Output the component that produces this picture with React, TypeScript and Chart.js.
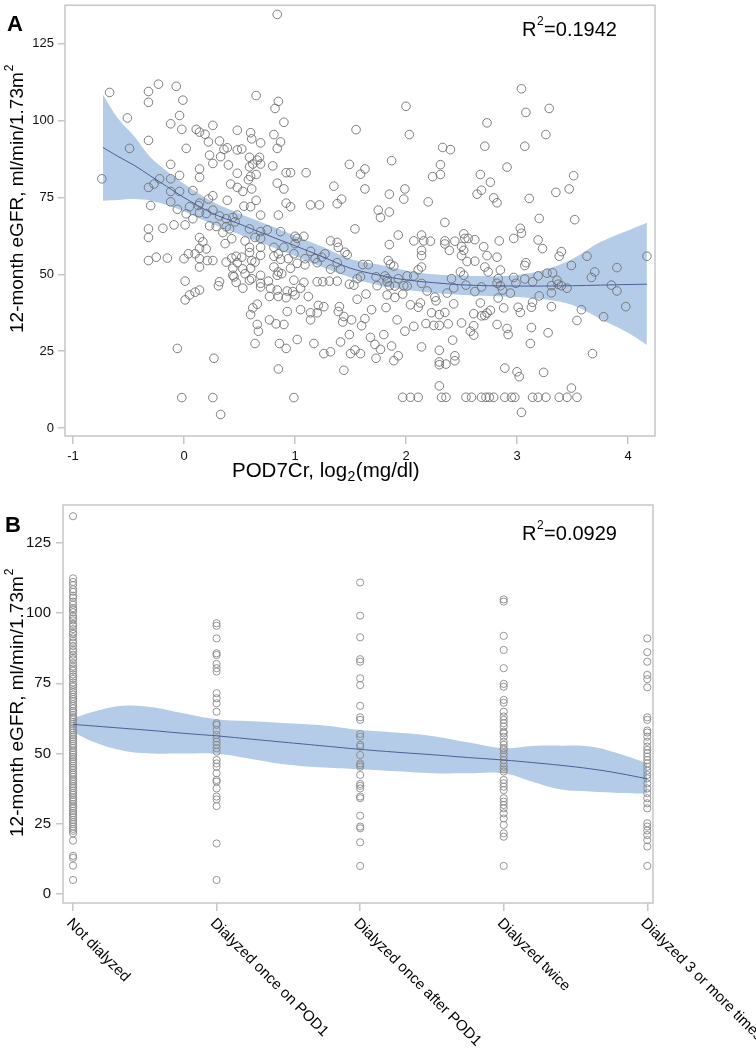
import React, { useEffect, useRef } from "react";
import { Chart, registerables } from "chart.js";
Chart.register(...registerables);

const FONT = '"Liberation Sans", Arial, Helvetica, sans-serif';
const AXIS = "#c6c6c6";
const BAND = "rgba(160, 190, 226, 0.78)";
const FIT = "#4b5e96";

// ---------- Panel A data ----------
const xTicksA = [-1, 0, 1, 2, 3, 4];
const yTicks = [0, 25, 50, 75, 100, 125];
const r2A = "0.1942";
const r2B = "0.0929";
const yTitle = "12-month eGFR, ml/min/1.73m";

const pointsA: [number, number][] = [
  [3.04,110.4],[2.00,104.7],[3.08,102.7],[3.29,104.0],[2.73,99.3],[2.03,95.5],[3.26,95.5],
  [0.84,134.6],[-0.74,81.1],[-0.67,109.2],[-0.51,100.9],[-0.49,91.0],[-0.32,109.5],[-0.32,106.0],[-0.32,93.6],[-0.23,111.9],[-0.07,111.2],[-0.04,101.7],[-0.01,106.7],[-0.12,99.0],[-0.02,97.2],[0.02,91.0],[-0.12,85.8],[-0.12,81.1],[-0.04,82.2],[-0.12,77.0],[-0.04,77.0],[-0.32,78.3],[-0.27,79.4],[-0.22,81.1],[-0.30,72.4],[-0.12,73.6],[0.08,77.3],[0.14,73.2],[0.11,97.2],[0.14,96.3],[0.19,95.6],[0.22,93.1],[0.26,98.5],[0.32,93.4],[0.23,88.8],[0.26,86.1],[0.14,84.3],[0.14,81.6],[0.33,88.3],[0.36,90.7],[0.39,91.2],[0.48,96.9],[0.60,96.1],[0.61,94.1],[0.69,92.8],[0.48,90.5],[0.52,90.8],[0.65,108.2],[0.85,106.3],[0.82,104.0],[0.90,99.5],[0.81,95.5],[0.87,93.1],[0.84,91.0],[0.59,88.1],[0.66,87.2],[0.68,88.1],[0.59,85.0],[0.62,85.9],[0.69,85.9],[0.40,85.6],[0.48,82.9],[0.65,82.5],[0.58,80.8],[0.60,81.9],[0.80,85.3],[0.92,83.1],[0.96,83.1],[1.10,83.1],[0.84,79.7],[0.90,77.8],[0.42,79.4],[0.48,78.3],[0.61,77.8],[0.53,77.0],[0.26,75.6],[0.22,74.5],[0.39,74.1],[0.65,74.1],[0.54,72.2],[0.60,72.0],[0.92,73.2],[0.96,72.0],[1.14,72.6],[1.22,72.6],[1.49,85.8],[1.59,82.6],[1.63,84.3],[1.63,77.8],[1.55,97.1],[1.35,78.7],[1.38,73.0],[1.42,74.5],
  [-0.32,64.8],[-0.32,62.0],[-0.19,65.0],[-0.09,66.1],[0.01,66.1],[-0.06,71.2],[0.02,69.7],[0.08,68.1],[0.05,72.0],[0.13,72.4],[0.14,70.1],[0.20,69.8],[0.26,70.9],[0.32,69.0],[0.38,68.1],[0.23,65.8],[0.29,65.6],[0.35,63.6],[0.38,65.5],[0.41,64.8],[0.44,68.5],[0.48,69.3],[0.46,67.1],[0.43,61.6],[0.37,60.0],[0.14,62.0],[0.17,60.6],[0.20,58.3],[0.14,58.5],[0.10,56.7],[0.04,56.7],[0.00,55.1],[-0.32,54.5],[-0.25,55.6],[-0.15,55.3],[0.14,55.1],[0.21,54.5],[0.26,54.5],[0.14,52.4],[0.01,47.8],[0.05,43.3],[0.10,44.2],[0.14,44.9],[0.01,41.7],[0.32,47.6],[0.31,46.3],[0.38,54.0],[0.43,55.3],[0.47,55.9],[0.52,55.6],[0.48,53.8],[0.44,52.0],[0.53,51.8],[0.45,49.2],[0.47,47.4],[0.59,48.1],[0.55,50.2],[0.61,54.5],[0.64,54.0],[0.69,56.2],[0.59,57.1],[0.59,58.8],[0.69,58.8],[0.69,61.7],[0.69,63.9],[0.75,64.5],[0.59,64.8],[0.55,60.9],[0.64,62.0],[0.69,69.3],[0.85,69.3],[0.87,63.9],[0.81,58.8],[0.90,58.8],[0.85,56.7],[0.81,55.9],[0.87,54.9],[0.94,55.1],[0.99,56.7],[1.00,62.4],[1.02,61.7],[1.00,60.0],[1.08,62.4],[0.81,52.4],[0.85,50.8],[0.88,50.2],[0.96,52.0],[1.02,53.6],[1.09,53.1],[1.14,57.5],[1.18,55.1],[1.20,53.8],[1.24,55.6],[1.27,56.7],[1.32,60.9],[1.38,60.4],[1.39,58.8],[1.45,57.2],[1.47,56.4],[1.38,53.8],[1.32,51.7],[1.41,51.7],[1.20,47.6],[1.25,47.6],[1.31,47.8],[1.38,47.8],[1.49,46.8],[1.53,46.5],[1.56,48.6],[1.56,41.9],[1.12,42.8],[1.05,45.5],[1.08,47.4],[0.99,48.1],[0.93,44.6],[0.98,44.4],[1.00,43.3],[0.92,42.4],[0.85,42.8],[0.84,44.9],[0.77,42.8],[0.93,37.9],[1.05,38.5],[1.14,37.5],[1.20,37.5],[1.26,39.5],[1.40,39.5],[1.39,37.9],[1.44,36.3],[1.43,34.5],[1.51,35.2],[1.14,35.2],[0.69,49.7],[0.76,47.8],[0.84,49.7],[0.69,47.1],[0.61,48.6],[0.60,52.0],[0.69,45.9],[0.53,45.5],[0.44,49.7],[0.78,45.5],[1.09,55.1],[0.66,40.3],[0.62,39.1],[0.60,36.9],[0.66,33.7],[0.67,31.5],[0.77,35.2],[0.83,33.9],[0.90,33.7],[1.21,39.9],
  [-0.06,25.9],[-0.02,9.9],[0.26,9.9],[0.27,22.7],[0.33,4.4],[0.64,27.5],[0.86,27.5],[0.92,25.9],[0.85,19.2],[0.99,9.9],[1.02,28.8],[1.17,27.5],[1.26,24.2],[1.32,24.8],[1.41,28.0],[1.44,18.8],[1.49,30.4],[1.50,24.2],[1.54,25.4],[1.59,24.2],[1.68,29.5],[1.72,27.2],[1.73,22.7],
  [2.33,91.3],[2.40,90.6],[2.71,91.7],[3.07,91.7],[1.87,87.0],[2.31,85.7],[2.31,82.5],[2.24,81.8],[2.91,84.9],[2.67,82.5],[2.76,80.0],[2.64,76.1],[2.68,77.4],[2.79,74.9],[2.82,73.3],[3.11,74.7],[3.35,76.7],[3.47,77.8],[3.51,82.1],[1.85,76.1],[1.98,74.5],[1.99,77.8],[2.20,73.6],[1.75,70.9],[1.77,68.5],[1.85,70.3],[1.54,64.8],[2.35,66.9],[3.20,68.2],[3.52,67.8],[1.93,62.8],[1.85,59.7],[2.07,60.9],[2.14,62.8],[2.16,60.9],[2.22,60.8],[2.35,60.9],[2.35,59.9],[2.44,60.8],[2.52,63.2],[2.53,61.7],[2.56,61.7],[2.62,61.3],[2.50,59.1],[2.52,57.8],[2.39,57.8],[2.14,57.8],[2.14,56.1],[2.70,59.0],[2.73,56.1],[2.82,55.6],[2.50,56.1],[2.55,54.2],[2.62,54.3],[2.84,60.9],[2.97,61.7],[3.03,65.0],[3.04,63.4],[3.19,61.2],[3.23,58.4],[3.38,55.9],[3.40,57.4],[3.63,55.9],[4.17,55.9],[3.49,52.9],[3.70,50.8],[3.67,49.0],[3.90,52.2],[3.85,46.5],[3.90,44.6],[3.98,39.5],[3.78,36.2],[3.58,38.5],[3.54,35.0],[3.31,39.5],[3.28,31.0],[3.13,32.7],[3.13,39.3],[3.14,40.9],[3.03,37.6],[3.01,39.3],[2.88,39.1],[2.76,38.3],[2.73,37.4],[2.71,36.6],[2.68,36.5],[2.67,40.7],[2.61,37.2],[2.61,33.3],[2.58,31.5],[2.82,33.7],[2.91,32.4],[2.50,34.2],[2.38,33.9],[2.30,33.4],[2.25,33.4],[2.18,34.0],[2.07,33.1],[1.99,31.5],[1.92,35.2],[1.82,39.2],[1.69,38.5],[1.63,35.6],[1.60,33.3],[1.64,43.6],[1.83,43.3],[1.90,42.5],[1.97,43.6],[2.04,40.1],[2.11,39.3],[2.13,40.7],[2.23,37.5],[2.30,36.9],[2.35,37.6],[2.43,40.4],[2.27,41.4],[2.26,42.6],[2.37,43.9],[2.19,44.6],[2.01,46.2],[1.90,46.2],[1.85,46.3],[1.83,47.6],[1.74,46.3],[1.73,49.2],[1.81,49.5],[1.83,48.6],[1.86,53.3],[1.89,52.7],[1.84,54.5],[1.66,53.2],[1.61,53.2],[1.59,49.2],[1.93,48.6],[1.98,46.3],[2.01,49.5],[2.07,49.5],[2.11,51.5],[2.14,52.4],[2.14,47.1],[2.41,48.6],[2.49,50.8],[2.52,49.7],[2.54,46.5],[2.43,45.6],[2.62,44.4],[2.68,45.9],[2.71,52.4],[2.74,50.8],[2.83,48.6],[2.85,51.4],[2.82,47.1],[2.85,46.3],[2.87,44.9],[2.83,42.3],[2.94,43.9],[2.97,49.0],[2.99,47.1],[3.07,48.5],[3.14,47.6],[3.19,49.5],[3.20,43.0],[3.27,50.4],[3.32,50.5],[3.31,44.0],[3.36,48.1],[3.37,46.8],[3.40,46.3],[3.45,45.5],[3.31,46.3],[3.08,53.8],[3.07,52.9],
  [1.77,25.6],[1.80,30.4],[1.87,26.7],[1.93,23.5],[1.89,21.9],[2.14,26.4],[2.30,25.3],[2.30,21.5],[2.30,20.6],[2.36,20.8],[2.44,21.9],[2.44,23.5],[2.42,28.6],[2.30,13.7],[1.97,10],[2.04,10],[2.11,10],[2.32,10],[2.36,10],[2.54,10],[2.59,10],[2.68,10],[2.72,10],[2.75,10],[2.79,10],[2.89,10],[2.95,10],[2.98,10],[3.14,10],[3.19,10],[3.26,10],[3.38,10],[3.45,10],[3.54,10],[3.04,5.1],[2.89,19.5],[3.00,18.3],[3.02,16.7],[3.24,18.1],[3.49,13.0],[3.68,24.2],[3.12,27.5],[2.92,30.4],[2.61,30.2],
];

const fitAx = [-0.73, -0.6, -0.45, -0.3, -0.15, 0, 0.25, 0.5, 0.75, 1.0, 1.25, 1.5, 1.75, 2.0, 2.25, 2.5, 2.75, 3.0, 3.25, 3.5, 3.75, 4.0, 4.17];
const fitAy = [91.3, 88.5, 85.5, 82.0, 78.5, 75.0, 70.0, 66.4, 62.8, 59.3, 55.7, 52.0, 49.8, 48.2, 47.3, 46.6, 46.3, 46.2, 46.2, 46.3, 46.5, 46.7, 46.8];
const bandALow = [74.0, 74.2, 74.5, 74.0, 72.5, 70.5, 66.5, 63.0, 59.5, 56.0, 52.3, 49.0, 46.5, 45.0, 44.0, 43.3, 43.0, 42.6, 41.8, 40.0, 35.5, 31.0, 27.0];
const bandAHigh = [108.5, 101.0, 95.0, 88.0, 83.5, 79.5, 73.8, 69.8, 66.2, 62.6, 59.0, 55.0, 53.2, 51.3, 50.0, 49.6, 49.4, 49.8, 51.5, 55.0, 60.5, 64.3, 66.8];

// ---------- Panel B data ----------
const categoriesB = ["Not dialyzed", "Dialyzed once on POD1", "Dialyzed once after POD1", "Dialyzed twice", "Dialyzed 3 or more times"];
const notDialyzed = [134.5, 112.4, 111.1, 110.0, 108.5, 107.6, 106.2, 105.5, 104.1, 103.0, 101.8, 101.2, 100.3, 99.0, 98.1, 97.4, 96.2, 95.5, 94.3, 93.1, 92.6, 91.4, 90.2, 89.5, 88.3, 87.0, 86.4, 85.2, 84.1, 83.5, 82.2, 81.0, 80.3, 79.5, 78.2, 77.4, 76.6, 75.3, 74.5, 73.8, 72.6, 71.9, 71.0, 70.2, 69.4, 68.7, 67.6, 66.9, 66.1, 65.2, 64.6, 63.7, 62.9, 62.2, 61.3, 60.6, 59.8, 59.0, 58.3, 57.5, 56.6, 55.9, 55.1, 54.4, 53.5, 52.8, 52.0, 51.1, 50.4, 49.6, 48.8, 48.0, 47.2, 46.5, 45.6, 44.9, 44.1, 43.2, 42.5, 41.7, 40.8, 40.1, 39.2, 38.4, 37.7, 36.8, 36.0, 35.3, 34.4, 33.6, 32.9, 32.0, 31.2, 30.5, 29.6, 28.8, 28.1, 27.3, 26.4, 25.6, 24.9, 24.0, 23.2, 22.5, 21.6, 19.0, 13.6, 12.9, 10.1, 5.0];
const onceOnPod1 = [96.4, 95.5, 91.0, 85.7, 85.1, 81.9, 80.4, 79.2, 71.5, 69.7, 67.9, 64.9, 60.8, 60.2, 58.4, 56.6, 55.4, 54.2, 53.1, 51.9, 50.7, 47.7, 46.5, 45.3, 43.0, 40.6, 40.0, 37.6, 34.7, 33.7, 31.3, 18.0, 5.0];
const onceAfterPod1 = [110.9, 99.1, 91.4, 83.6, 82.7, 76.8, 74.4, 67.0, 62.9, 62.0, 57.0, 56.0, 53.1, 52.5, 49.5, 46.5, 45.9, 45.3, 42.4, 39.2, 38.5, 37.6, 34.7, 34.1, 27.9, 24.0, 23.4, 18.4, 10.0];
const twice = [104.9, 104.1, 91.9, 86.9, 80.4, 74.8, 73.8, 69.1, 68.1, 64.9, 63.2, 62.0, 60.8, 59.6, 57.8, 57.2, 56.0, 54.2, 53.1, 51.9, 51.3, 50.1, 48.9, 47.7, 46.5, 45.3, 44.4, 43.6, 40.6, 39.4, 38.2, 37.0, 34.1, 32.9, 31.7, 30.5, 28.7, 26.9, 24.6, 21.6, 20.4, 10.0];
const threePlus = [91.0, 86.1, 82.7, 78.0, 76.5, 73.6, 62.9, 62.0, 58.2, 57.5, 56.0, 54.2, 52.5, 51.3, 50.1, 48.9, 47.7, 46.5, 45.3, 43.9, 42.4, 41.2, 39.4, 37.6, 35.9, 34.1, 32.3, 30.5, 25.2, 24.0, 22.6, 21.0, 19.2, 16.9, 10.0];
const groupsB = [notDialyzed, onceOnPod1, onceAfterPod1, twice, threePlus];

const fitBx = [0, 0.15, 0.35, 0.55, 0.75, 1.0, 1.25, 1.5, 1.75, 2.0, 2.25, 2.5, 2.75, 3.0, 3.2, 3.4, 3.6, 3.8, 4.0];
const fitBy = [60.4, 59.8, 59.0, 58.2, 57.3, 56.3, 55.1, 53.9, 52.7, 51.5, 50.5, 49.6, 48.6, 47.7, 46.8, 45.8, 44.6, 43.0, 41.0];
const bandBLow = [57.7, 54.0, 51.0, 50.0, 50.0, 49.9, 48.0, 46.0, 45.0, 44.4, 43.7, 43.0, 43.0, 43.0, 40.0, 37.2, 36.5, 36.0, 35.8];
const bandBHigh = [62.6, 65.0, 67.0, 66.5, 64.5, 62.2, 61.5, 60.8, 60.0, 58.4, 57.5, 56.3, 54.0, 51.9, 52.7, 52.8, 52.5, 50.0, 46.5];

const pts = (xs: number[], ys: number[]) => xs.map((x, i) => ({ x, y: ys[i] }));

type DecorCfg = {
  letter: string; letterX: number; letterY: number;
  r2: string; rX: number; rY: number;
  yTitleX: number; yTitleY: number;
  extra?: (chart: any, ctx: CanvasRenderingContext2D) => void;
};

function decorPlugin(cfg: DecorCfg) {
  return {
    id: "decor" + cfg.letter,
    afterDraw(chart: any) {
      const { ctx, chartArea: a } = chart;
      ctx.save();
      ctx.strokeStyle = AXIS;
      ctx.lineWidth = 1.5;
      ctx.strokeRect(a.left, a.top, a.right - a.left, a.bottom - a.top);
      ctx.fillStyle = "#000";
      ctx.textAlign = "left";
      ctx.textBaseline = "alphabetic";
      ctx.font = `bold 22px ${FONT}`;
      ctx.fillText(cfg.letter, cfg.letterX, cfg.letterY);
      // R^2 annotation
      ctx.font = `20px ${FONT}`;
      ctx.fillText("R", cfg.rX, cfg.rY);
      const wR = ctx.measureText("R").width;
      ctx.font = `12px ${FONT}`;
      ctx.fillText("2", cfg.rX + wR + 0.5, cfg.rY - 11);
      const w2 = ctx.measureText("2").width;
      ctx.font = `20px ${FONT}`;
      ctx.fillText("=" + cfg.r2, cfg.rX + wR + w2 + 1, cfg.rY);
      ctx.restore();
      // y title
      ctx.save();
      ctx.fillStyle = "#000";
      ctx.translate(cfg.yTitleX, cfg.yTitleY);
      ctx.rotate(-Math.PI / 2);
      ctx.textAlign = "left";
      ctx.textBaseline = "alphabetic";
      ctx.font = `19px ${FONT}`;
      ctx.fillText(yTitle, 0, 0);
      const wt = ctx.measureText(yTitle).width;
      ctx.font = `12px ${FONT}`;
      ctx.fillText("2", wt + 1, -10);
      ctx.restore();
      if (cfg.extra) {
        ctx.save();
        cfg.extra(chart, ctx);
        ctx.restore();
      }
    },
  };
}

const gridOpts = { drawOnChartArea: false, drawTicks: true, tickLength: 8, color: AXIS, lineWidth: 1.5 };
const zeroPad = (s: any) => { s.paddingTop = 0; s.paddingBottom = 0; s.paddingLeft = 0; s.paddingRight = 0; };

function ChartA() {
  const ref = useRef<HTMLCanvasElement>(null);
  useEffect(() => {
    const chart = new Chart(ref.current!, {
      type: "scatter",
      data: {
        datasets: [
          { type: "line", data: pts(fitAx, bandALow), borderColor: "rgba(0,0,0,0)", borderWidth: 0, pointRadius: 0, fill: false, tension: 0.35, order: 3, backgroundColor: BAND } as any,
          { type: "line", data: pts(fitAx, bandAHigh), borderColor: "rgba(0,0,0,0)", borderWidth: 0, pointRadius: 0, fill: "-1", tension: 0.35, order: 3, backgroundColor: BAND } as any,
          { type: "scatter", data: pointsA.map(([x, y]) => ({ x, y })), pointRadius: 4.3, pointBorderWidth: 0.9, pointBorderColor: "#6f6f6f", pointBackgroundColor: "rgba(0,0,0,0)", order: 2 } as any,
          { type: "line", data: pts(fitAx, fitAy), borderColor: FIT, borderWidth: 1, pointRadius: 0, fill: false, tension: 0.35, order: 1 } as any,
        ],
      },
      options: {
        animation: false,
        responsive: false,
        devicePixelRatio: 1,
        events: [],
        layout: { padding: { left: 0, right: 101, top: 1, bottom: 0 } },
        plugins: { legend: { display: false }, tooltip: { enabled: false } },
        scales: {
          x: {
            type: "linear", min: -1.072, max: 4.243,
            afterBuildTicks: (s: any) => { s.ticks = xTicksA.map((v) => ({ value: v })); },
            afterFit: (s: any) => { s.height = 54; zeroPad(s); },
            grid: gridOpts, border: { display: false },
            ticks: { autoSkip: false, maxRotation: 0, padding: 5, color: "#111", font: { family: FONT, size: 13 }, callback: (v: any) => String(v) },
          },
          y: {
            type: "linear", min: -2.6, max: 137.6,
            afterBuildTicks: (s: any) => { s.ticks = yTicks.map((v) => ({ value: v })); },
            afterFit: (s: any) => { s.width = 65; zeroPad(s); },
            grid: { ...gridOpts, tickLength: 7 }, border: { display: false },
            ticks: { autoSkip: false, padding: 4, color: "#111", font: { family: FONT, size: 13 }, callback: (v: any) => String(v) },
          },
        },
      },
      plugins: [
        decorPlugin({
          letter: "A", letterX: 7, letterY: 31, r2: r2A, rX: 522, rY: 36, yTitleX: 23, yTitleY: 333,
          extra: (chart, ctx) => {
            ctx.fillStyle = "#000";
            ctx.textBaseline = "alphabetic";
            ctx.textAlign = "left";
            let x = 232;
            const y = 477;
            ctx.font = `20.5px ${FONT}`;
            ctx.fillText("POD7Cr, log", x, y);
            x += ctx.measureText("POD7Cr, log").width;
            ctx.font = `14px ${FONT}`;
            ctx.fillText("2", x + 0.5, y + 4);
            x += ctx.measureText("2").width + 1;
            ctx.font = `20.5px ${FONT}`;
            ctx.fillText("(mg/dl)", x, y);
          },
        }),
      ],
    });
    return () => chart.destroy();
  }, []);
  return <canvas ref={ref} width={756} height={490} style={{ display: "block", width: 756, height: 490 }} />;
}

function ChartB() {
  const ref = useRef<HTMLCanvasElement>(null);
  useEffect(() => {
    const scatter: { x: number; y: number }[] = [];
    groupsB.forEach((g, i) => g.forEach((v) => scatter.push({ x: i, y: v })));
    const chart = new Chart(ref.current!, {
      type: "scatter",
      data: {
        datasets: [
          { type: "line", data: pts(fitBx, bandBLow), borderColor: "rgba(0,0,0,0)", borderWidth: 0, pointRadius: 0, fill: false, tension: 0.4, order: 3, backgroundColor: BAND } as any,
          { type: "line", data: pts(fitBx, bandBHigh), borderColor: "rgba(0,0,0,0)", borderWidth: 0, pointRadius: 0, fill: "-1", tension: 0.4, order: 3, backgroundColor: BAND } as any,
          { type: "scatter", data: scatter, pointRadius: 3.6, pointBorderWidth: 0.9, pointBorderColor: "#8a8a8a", pointBackgroundColor: "rgba(0,0,0,0)", order: 2 } as any,
          { type: "line", data: pts(fitBx, fitBy), borderColor: FIT, borderWidth: 1, pointRadius: 0, fill: false, tension: 0.4, order: 1 } as any,
        ],
      },
      options: {
        animation: false,
        responsive: false,
        devicePixelRatio: 1,
        events: [],
        layout: { padding: { left: 0, right: 103, top: 15, bottom: 0 } },
        plugins: { legend: { display: false }, tooltip: { enabled: false } },
        scales: {
          x: {
            type: "linear", min: -0.07, max: 4.04,
            afterBuildTicks: (s: any) => { s.ticks = categoriesB.map((_, i) => ({ value: i })); },
            afterFit: (s: any) => { s.height = 147; zeroPad(s); },
            grid: gridOpts, border: { display: false },
            ticks: { display: false, autoSkip: false },
          },
          y: {
            type: "linear", min: -3.2, max: 138.5,
            afterBuildTicks: (s: any) => { s.ticks = yTicks.map((v) => ({ value: v })); },
            afterFit: (s: any) => { s.width = 63; zeroPad(s); },
            grid: { ...gridOpts, tickLength: 7 }, border: { display: false },
            ticks: { autoSkip: false, padding: 5, color: "#111", font: { family: FONT, size: 15 }, callback: (v: any) => String(v) },
          },
        },
      },
      plugins: [
        decorPlugin({
          letter: "B", letterX: 5, letterY: 42, r2: r2B, rX: 522, rY: 50, yTitleX: 23, yTitleY: 347,
          extra: (chart, ctx) => {
            const xs = chart.scales.x;
            ctx.fillStyle = "#000";
            ctx.font = `15px ${FONT}`;
            ctx.textAlign = "left";
            ctx.textBaseline = "middle";
            categoriesB.forEach((c, i) => {
              const px = xs.getPixelForValue(i);
              ctx.save();
              ctx.translate(px - 4, 431);
              ctx.rotate(Math.PI / 4);
              ctx.fillText(c, 0, 0);
              ctx.restore();
            });
          },
        }),
      ],
    });
    return () => chart.destroy();
  }, []);
  return <canvas ref={ref} width={756} height={560} style={{ display: "block", width: 756, height: 560 }} />;
}

export default function App() {
  return (
    <div style={{ position: "absolute", left: 0, top: 0, width: 756, height: 1050, background: "#fff" }}>
      <ChartA />
      <ChartB />
    </div>
  );
}
